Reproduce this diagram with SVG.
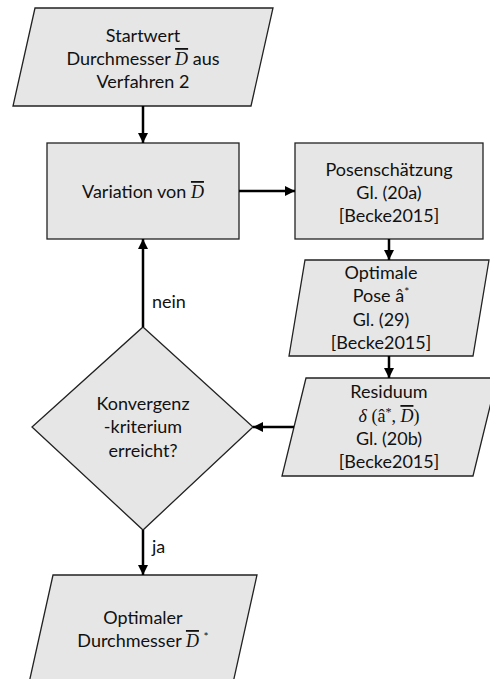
<svg xmlns="http://www.w3.org/2000/svg" width="490" height="679" viewBox="0 0 490 679">
<defs>
<marker id="ah" markerUnits="userSpaceOnUse" markerWidth="12" markerHeight="12" viewBox="0 0 12 12" refX="10" refY="6" orient="auto">
<path d="M0,1 L10,6 L0,11 Z" fill="#000"/>
</marker>
</defs>
<style>
.shape{fill:#e6e6e6;stroke:#222;stroke-width:1.3}
.t{font-family:Lato,"Open Sans","Liberation Sans",sans-serif;font-size:18px;fill:#111;text-anchor:middle}
.m{font-family:"Liberation Serif","DejaVu Serif",serif;font-style:italic}
.mr{font-family:"Liberation Serif","DejaVu Serif",serif}
.sup{font-size:12px}
.ov{text-decoration:overline}
.c{stroke:#000;stroke-width:2.5;fill:none;marker-end:url(#ah)}
.lbl{font-family:Lato,"Open Sans","Liberation Sans",sans-serif;font-size:18px;fill:#111}
</style>
<g id="start">
<polygon class="shape" points="35,8 273,8 251,106 13,106"/>
<text class="t" x="143" y="42">Startwert</text>
<text class="t" x="143" y="65">Durchmesser <tspan class="m ov">D</tspan> aus</text>
<text class="t" x="143" y="88">Verfahren 2</text>
</g>
<g id="variation">
<rect class="shape" x="47" y="143" width="192" height="96"/>
<text class="t" x="143" y="198">Variation von <tspan class="m ov">D</tspan></text>
</g>
<g id="pose">
<rect class="shape" x="295" y="143" width="188" height="96"/>
<text class="t" x="389" y="176">Posenschätzung</text>
<text class="t" x="389" y="199">Gl. (20a)</text>
<text class="t" x="389" y="222">[Becke2015]</text>
</g>
<g id="optpose">
<polygon class="shape" points="305,260 489,260 473,356 289,356"/>
<text class="t" x="381" y="279">Optimale</text>
<text class="t" x="381" y="302">Pose â<tspan class="sup" dy="-6">*</tspan></text>
<text class="t" x="381" y="326">Gl. (29)</text>
<text class="t" x="381" y="349">[Becke2015]</text>
</g>
<g id="residuum">
<polygon class="shape" points="306,378 497,378 473,476 282,476"/>
<text class="t" x="389" y="398">Residuum</text>
<text class="t" x="389" y="422"><tspan class="m">δ</tspan><tspan class="mr"> (â</tspan><tspan class="mr sup" dy="-6">*</tspan><tspan class="mr" dy="6">, </tspan><tspan class="m ov">D</tspan><tspan class="mr">)</tspan></text>
<text class="t" x="389" y="445">Gl. (20b)</text>
<text class="t" x="389" y="468">[Becke2015]</text>
</g>
<g id="decision">
<polygon class="shape" points="143,327 253,427 143,530 32,427"/>
<text class="t" x="143" y="410">Konvergenz</text>
<text class="t" x="143" y="433">-kriterium</text>
<text class="t" x="143" y="457">erreicht?</text>
</g>
<g id="result">
<polygon class="shape" points="53,575 257,575 233,683 29,683"/>
<text class="t" x="143" y="624">Optimaler</text>
<text class="t" x="143" y="647">Durchmesser <tspan class="m ov">D</tspan> <tspan class="sup" dy="-6">*</tspan></text>
</g>
<g id="connectors">
<line class="c" x1="143" y1="106" x2="143" y2="143"/>
<line class="c" x1="239" y1="191" x2="295" y2="191"/>
<line class="c" x1="389" y1="239" x2="389" y2="260"/>
<line class="c" x1="389" y1="356" x2="389" y2="378"/>
<line class="c" x1="294" y1="427" x2="253" y2="427"/>
<line class="c" x1="143" y1="327" x2="143" y2="239"/>
<line class="c" x1="143" y1="530" x2="143" y2="575"/>
<text class="lbl" x="152" y="308">nein</text>
<text class="lbl" x="152" y="553">ja</text>
</g>
</svg>
